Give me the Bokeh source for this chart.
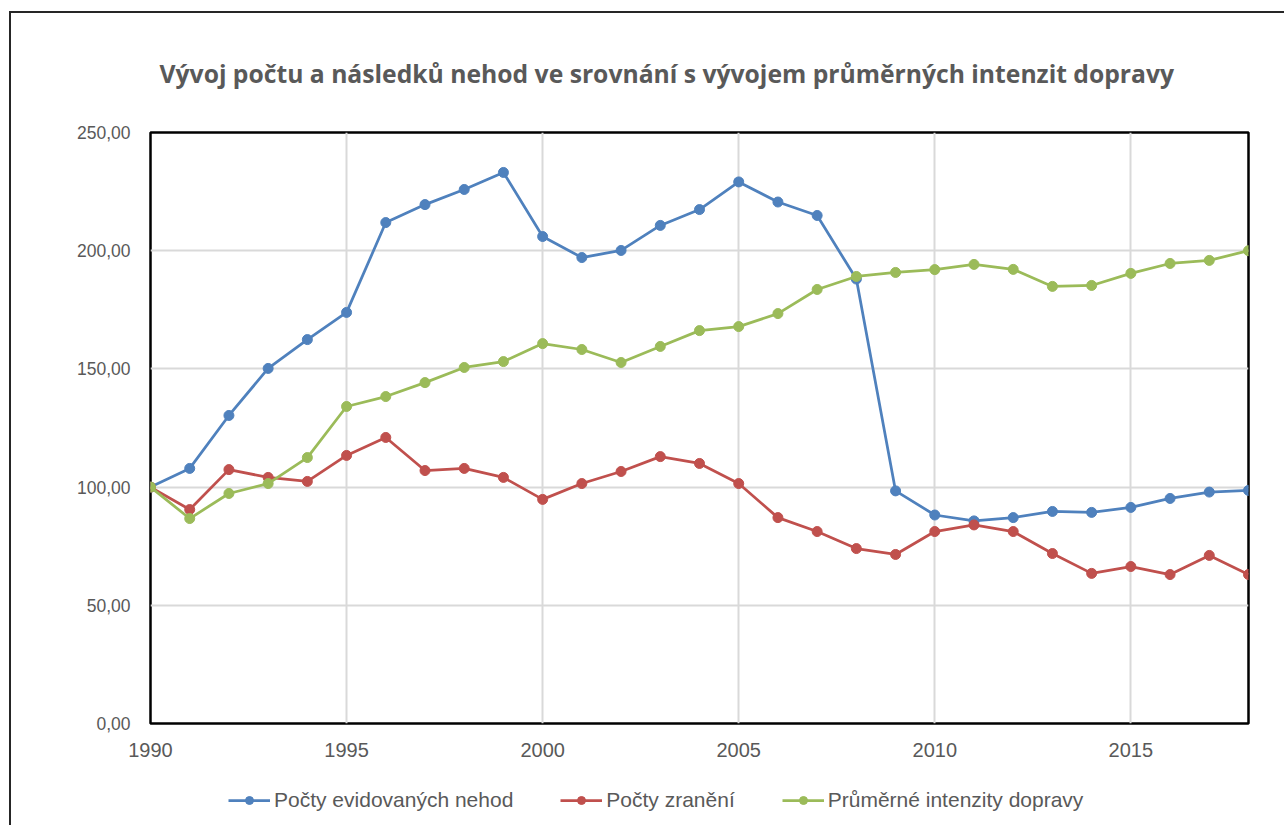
from bokeh.plotting import figure
from bokeh.layouts import column
from bokeh.models import (ColumnDataSource, Legend, LegendItem, Label, FixedTicker,
                          CustomJSTickFormatter, Range1d)
from bokeh.embed import file_html
from bokeh.resources import INLINE

years = list(range(1990, 2019))
nehody = [100.0, 107.9, 130.3, 150.2, 162.4, 173.9, 211.9, 219.5, 225.9, 233.1,
          206.0, 197.1, 200.1, 210.7, 217.4, 229.1, 220.6, 214.9, 188.0, 98.4,
          88.2, 85.7, 87.1, 89.7, 89.3, 91.4, 95.2, 97.9, 98.6]
zraneni = [100.0, 90.5, 107.4, 104.1, 102.4, 113.4, 121.0, 107.0, 107.9, 104.1,
           94.8, 101.5, 106.6, 112.9, 110.0, 101.5, 87.1, 81.2, 74.0, 71.5,
           81.2, 84.0, 81.2, 71.9, 63.5, 66.4, 63.0, 71.1, 63.0]
intenzity = [100.0, 86.7, 97.3, 101.5, 112.5, 134.1, 138.3, 144.2, 150.6, 153.1,
             160.7, 158.2, 152.7, 159.5, 166.2, 167.9, 173.4, 183.6, 189.1, 190.8,
             192.0, 194.2, 192.1, 184.9, 185.3, 190.4, 194.6, 195.9, 200.0]
series_names = ["Počty evidovaných nehod", "Počty zranění", "Průměrné intenzity dopravy"]
series_colors = ["#4f81bd", "#c0504d", "#9bbb59"]
x_ticks = [1990, 1995, 2000, 2005, 2010, 2015]
y_ticks = [0, 50, 100, 150, 200, 250]
title_text = "Vývoj počtu a následků nehod ve srovnání s vývojem průměrných intenzit dopravy"

src = ColumnDataSource(dict(x=years, a=nehody, b=zraneni, c=intenzity))


def strip(height):
    f = figure(width=1273, height=height, output_backend="svg", toolbar_location=None,
               x_range=Range1d(0, 1), y_range=Range1d(0, 1),
               x_axis_type=None, y_axis_type=None,
               min_border_left=0, min_border_right=0, min_border_top=0,
               min_border_bottom=0)
    f.outline_line_color = None
    f.xgrid.visible = False
    f.ygrid.visible = False
    f.background_fill_color = "white"
    f.border_fill_color = "white"
    return f


# ---- title strip ----
tf = strip(105)
tf.add_layout(Label(x=9, y=45, x_units="screen", y_units="screen", text=title_text,
                    text_align="left", text_baseline="alphabetic",
                    text_font="Open Sans", text_font_style="bold",
                    text_font_size="24.7px", text_color="#595959"))

# ---- main chart ----
p = figure(width=1273, height=651, output_backend="svg", toolbar_location=None,
           x_range=Range1d(1990, 2018), y_range=Range1d(0, 250),
           min_border_left=139, min_border_right=36, min_border_top=14,
           min_border_bottom=46)
p.background_fill_color = "white"
p.border_fill_color = "white"
p.outline_line_color = "black"
p.outline_line_width = 2.5

p.xgrid.grid_line_color = "#d9d9d9"
p.ygrid.grid_line_color = "#d9d9d9"
p.xgrid.grid_line_width = 2
p.ygrid.grid_line_width = 2

p.xaxis.ticker = FixedTicker(ticks=x_ticks)
p.yaxis.ticker = FixedTicker(ticks=y_ticks)
p.yaxis.formatter = CustomJSTickFormatter(code="return tick.toFixed(2).replace('.', ',');")
for ax in (p.xaxis, p.yaxis):
    ax.axis_line_color = None
    ax.major_tick_line_color = None
    ax.minor_tick_line_color = None
    ax.major_tick_out = 0
    ax.major_tick_in = 0
    ax.major_label_text_color = "#595959"
    ax.major_label_text_font = "Liberation Sans"
p.xaxis.major_label_text_font_size = "20px"
p.yaxis.major_label_text_font_size = "17.5px"
p.xaxis.major_label_standoff = 19
p.yaxis.major_label_standoff = 20

for col, color in zip(["a", "b", "c"], series_colors):
    p.line("x", col, source=src, line_color=color, line_width=2.75)
    p.scatter("x", col, source=src, size=10, fill_color=color, line_color=color)

# ---- legend strip (same series styles; data lies outside its view) ----
lf = strip(56)
items = []
for col, name, color in zip(["a", "b", "c"], series_names, series_colors):
    ln = lf.line("x", col, source=src, line_color=color, line_width=2.75)
    sc = lf.scatter("x", col, source=src, size=10, fill_color=color, line_color=color)
    items.append(LegendItem(label=name, renderers=[ln, sc]))
legend = Legend(items=items, orientation="horizontal", location=(78, 13),
                padding=0, margin=0, spacing=47, glyph_width=42, glyph_height=20,
                label_standoff=4, label_text_font="Liberation Sans",
                label_text_font_size="21px", label_text_color="#595959",
                border_line_color=None, background_fill_alpha=0)
lf.add_layout(legend, "center")

layout = column(tf, p, lf, spacing=0)
layout.styles = {"margin-left": "9px", "margin-top": "11px",
                 "border-left": "2px solid #262626", "border-top": "2px solid #262626"}

open("out.html", "w").write(file_html(layout, INLINE))
